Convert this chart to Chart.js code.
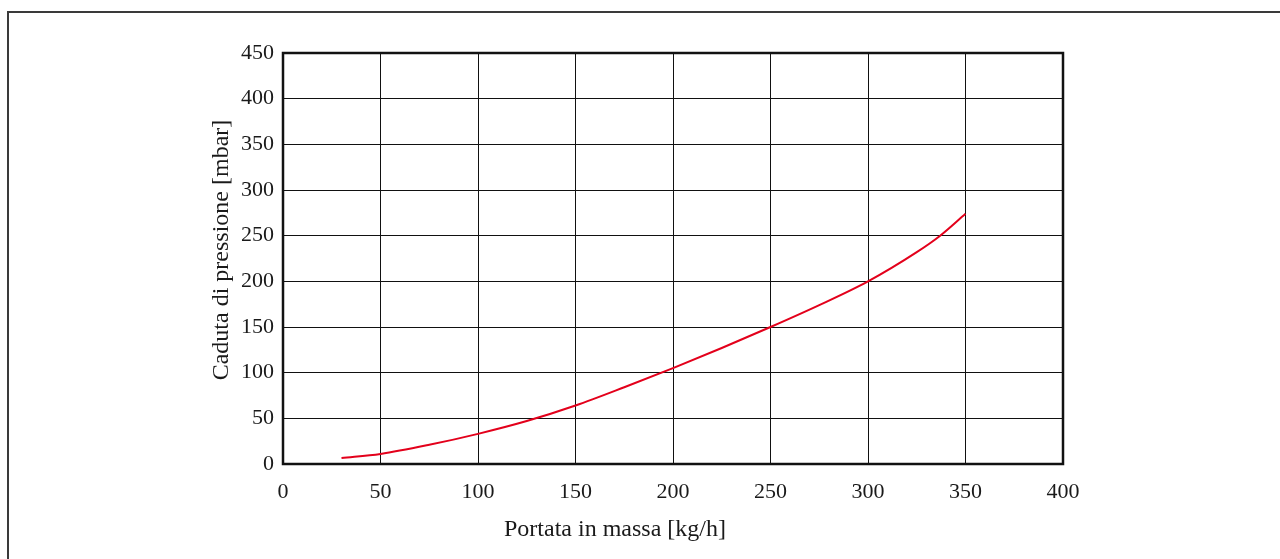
<!DOCTYPE html>
<html>
<head>
<meta charset="utf-8">
<script src="https://cdn.jsdelivr.net/npm/chart.js@4.4.1/dist/chart.umd.min.js"></script>
<style>
    body { margin: 0; background: #fff; overflow: hidden; }
    #frame {
        position: absolute; left: 7px; top: 11px; width: 1400px; height: 700px;
        border: 2px solid #3a3a3a;
    }
    #wrap { position: absolute; left: 0; top: 0; width: 1280px; height: 559px; }
</style>
</head>
<body>
<div id="frame"></div>
<div id="wrap"><canvas id="lossChart" width="1280" height="559"></canvas></div>
<script>
// Data
const flowRate = [30, 50, 75, 100, 125, 150, 175, 200, 225, 250, 275, 300, 325, 337, 350];
const pressureDrop = [6.5, 11, 21, 33, 47, 64, 84, 105, 127, 150, 174, 200, 232, 250, 274];

const xTicks = [0, 50, 100, 150, 200, 250, 300, 350, 400];
const yTicks = [0, 50, 100, 150, 200, 250, 300, 350, 400, 450];

const xTitle = 'Portata in massa [kg/h]';
const yTitle = 'Caduta di pressione [mbar]';

const FONT = '"Liberation Serif", "Times New Roman", serif';

// Frame around plot + axis titles
const framePlugin = {
    id: 'frameTitles',
    afterDraw(chart) {
        const { ctx, chartArea: a } = chart;
        ctx.save();
        ctx.strokeStyle = '#111';
        ctx.lineWidth = 2.5;
        ctx.strokeRect(a.left, a.top, a.right - a.left, a.bottom - a.top);

        ctx.fillStyle = '#1a1a1a';
        ctx.font = '24px ' + FONT;
        ctx.textAlign = 'center';
        ctx.textBaseline = 'middle';
        ctx.fillText(xTitle, a.left + 332, a.bottom + 66);

        ctx.translate(a.left - 61, a.top + 197);
        ctx.rotate(-Math.PI / 2);
        ctx.fillText(yTitle, 0, 0);
        ctx.restore();
    }
};

const ctx = document.getElementById('lossChart').getContext('2d');

new Chart(ctx, {
    type: 'line',
    data: {
        datasets: [{
            data: flowRate.map((x, i) => ({ x: x, y: pressureDrop[i] })),
            borderColor: '#e3001b',
            borderWidth: 2,
            pointRadius: 0,
            cubicInterpolationMode: 'monotone',
            fill: false
        }]
    },
    options: {
        responsive: false,
        animation: false,
        layout: { padding: { left: 0, right: 217, top: 53, bottom: 0 } },
        plugins: {
            legend: { display: false },
            tooltip: { enabled: false }
        },
        scales: {
            x: {
                type: 'linear',
                min: 0,
                max: 400,
                afterBuildTicks: s => { s.ticks = xTicks.map(v => ({ value: v })); },
                afterFit: s => { s.height = 95; },
                grid: { color: '#111', lineWidth: 1, drawTicks: false },
                border: { display: false },
                ticks: {
                    color: '#1a1a1a',
                    padding: 15,
                    maxRotation: 0,
                    font: { family: FONT, size: 22 }
                }
            },
            y: {
                type: 'linear',
                min: 0,
                max: 450,
                afterBuildTicks: s => { s.ticks = yTicks.map(v => ({ value: v })); },
                afterFit: s => { s.width = 283; },
                grid: { color: '#111', lineWidth: 1, drawTicks: false },
                border: { display: false },
                ticks: {
                    color: '#1a1a1a',
                    padding: 9,
                    font: { family: FONT, size: 22 }
                }
            }
        }
    },
    plugins: [framePlugin]
});
</script>
</body>
</html>
